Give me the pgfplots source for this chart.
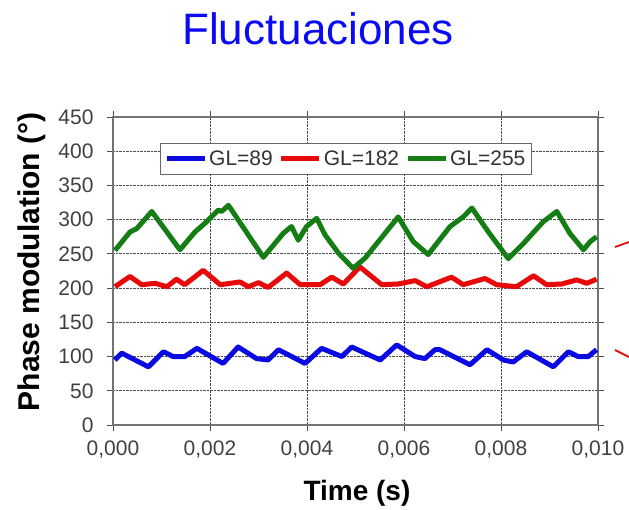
\documentclass[border=0pt]{standalone}
\usepackage{fontspec}
\setmainfont{Liberation Sans}
\usepackage{pgfplots}
\pgfplotsset{compat=1.18}
\definecolor{cblue}{RGB}{10,10,225}
\definecolor{cred}{RGB}{230,10,10}
\definecolor{cgreen}{RGB}{20,125,20}
\definecolor{ctitle}{RGB}{10,10,245}
\begin{document}
\begin{tikzpicture}[x=1pt,y=1pt]
\useasboundingbox (0,0) rectangle (629,509);
\node[font=\fontsize{44}{50}\selectfont, text=ctitle] at (318,480) {Fluctuaciones};
\begin{axis}[
  at={(113pt,84pt)}, anchor=south west,
  width=485pt, height=308pt, scale only axis,
  xmin=0, xmax=0.01, ymin=0, ymax=450,
  xtick={0,0.002,0.004,0.006,0.008,0.010},
  xticklabels={{0,000},{0,002},{0,004},{0,006},{0,008},{0,010}},
  scaled x ticks=false,
  ytick={0,50,...,450},
  /pgf/number format/assume math mode=true,
  tick label style={font=\fontsize{21}{24}\selectfont, text=black!75},
  tick align=outside, major tick length=6pt,
  tick style={black!70, line width=0.8pt},
  axis line style={black!55, line width=1.2pt},
  grid=major,
  major grid style={black!70, densely dotted, line width=0.8pt},
  xticklabel style={yshift=-6pt},
  yticklabel style={xshift=-10pt},
  xlabel={\textbf{Time (s)}},
  ylabel={\textbf{Phase modulation (°)}},
  xlabel style={font=\fontsize{28}{32}\selectfont, at={(axis description cs:0.503,-0.222)}, anchor=center},
  ylabel style={font=\fontsize{30}{34}\selectfont, at={(axis description cs:-0.167,0.53)}, anchor=center},
  legend columns=3,
  legend style={at={(axis description cs:0.48,0.864)}, anchor=center,
    font=\fontsize{21}{24}\selectfont, text=black!80, draw=black!60, line width=0.8pt,
    inner xsep=4pt, inner ysep=5pt,
    /tikz/every even column/.append style={column sep=4pt}},
  legend image code/.code={\draw[#1] (0pt,0pt) -- (38pt,0pt);},
  every axis plot/.append style={line width=5pt, line join=round},
]
\addplot[cblue] table {
0.00004 95
0.00018 105
0.00073 85
0.00104 107
0.00124 100
0.00148 100
0.00173 112
0.00190 105
0.00227 90
0.00258 114
0.00296 97
0.00320 95
0.00341 110
0.00396 90
0.00430 112
0.00472 100
0.00492 114
0.00551 95
0.00585 117
0.00623 100
0.00643 97
0.00664 110
0.00674 110
0.00736 88
0.00771 110
0.00805 95
0.00825 92
0.00853 107
0.00908 85
0.00939 107
0.00959 100
0.00980 100
0.00997 110
};
\addlegendentry{GL=89}
\addplot[cred] table {
0.00004 202
0.00035 217
0.00059 205
0.00087 207
0.00111 202
0.00131 213
0.00148 205
0.00186 226
0.00221 205
0.00262 209
0.00279 202
0.00300 208
0.00320 201
0.00358 222
0.00386 205
0.00427 205
0.00451 216
0.00475 206
0.00509 231
0.00554 205
0.00588 206
0.00623 211
0.00647 202
0.00698 216
0.00722 205
0.00767 214
0.00791 205
0.00832 202
0.00867 218
0.00894 205
0.00925 206
0.00956 212
0.00977 207
0.00997 213
};
\addlegendentry{GL=182}
\addplot[cgreen] table {
0.00004 255
0.00035 282
0.00049 287
0.00080 312
0.00138 256
0.00169 282
0.00190 295
0.00217 314
0.00224 312
0.00238 321
0.00310 245
0.00351 280
0.00368 290
0.00382 270
0.00399 290
0.00420 302
0.00437 278
0.00465 251
0.00495 229
0.00520 244
0.00588 304
0.00619 268
0.00650 249
0.00664 262
0.00695 290
0.00722 304
0.00740 317
0.00774 282
0.00815 243
0.00846 265
0.00887 297
0.00915 312
0.00942 280
0.00970 256
0.00984 268
0.00997 275
};
\addlegendentry{GL=255}
\end{axis}
\draw[cred, line width=1.8pt] (615,262) -- (629,267);
\draw[cred, line width=1.8pt] (615,159) -- (629,152);
\end{tikzpicture}
\end{document}
